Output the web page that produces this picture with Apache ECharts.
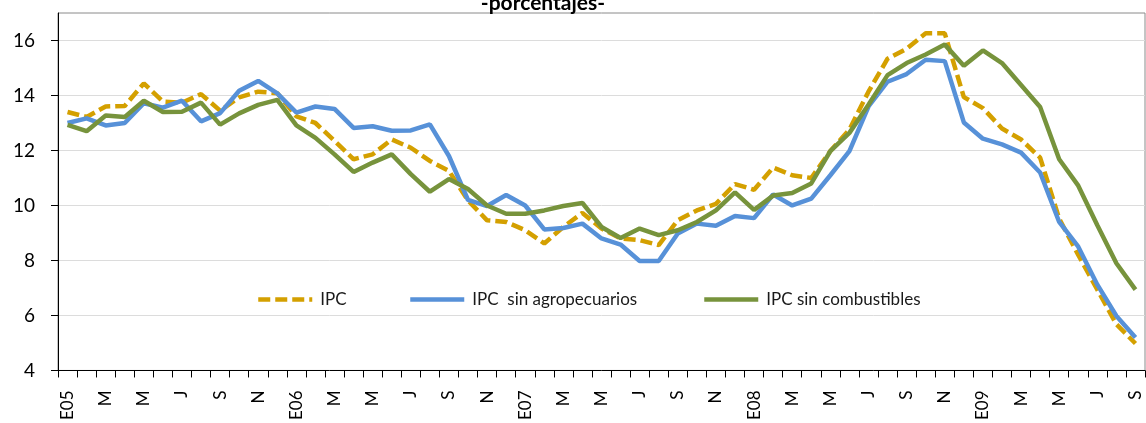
<!DOCTYPE html>
<html>
<head>
<meta charset="utf-8">
<title>IPC</title>
<script src="https://cdn.jsdelivr.net/npm/echarts@6/dist/echarts.min.js"></script>
<style>
  html, body { margin: 0; padding: 0; background: #ffffff; }
  #chart { width: 1146px; height: 423px; }
</style>
</head>
<body>
<div id="chart"></div>
<script>
// Months Jan 2005 – Sep 2009 (E = enero ... D = diciembre)
const months = [
  'E05','F','M','A','M','J','J','A','S','O','N','D',
  'E06','F','M','A','M','J','J','A','S','O','N','D',
  'E07','F','M','A','M','J','J','A','S','O','N','D',
  'E08','F','M','A','M','J','J','A','S','O','N','D',
  'E09','F','M','A','M','J','J','A','S'
];

// Year-on-year variation, percent
const ipc = [
  13.40, 13.22, 13.60, 13.62, 14.44, 13.78, 13.74, 14.05, 13.45, 13.93, 14.14, 14.08,
  13.24, 13.00, 12.35, 11.68, 11.86, 12.40, 12.10, 11.62, 11.26, 10.18, 9.46, 9.40,
  9.10, 8.62, 9.22, 9.73, 9.16, 8.80, 8.74, 8.56, 9.46, 9.82, 10.06, 10.78,
  10.57, 11.38, 11.10, 11.00, 11.98, 12.76, 14.14, 15.34, 15.70, 16.26, 16.26, 13.94,
  13.54, 12.80, 12.40, 11.74, 9.52, 8.20, 6.94, 5.68, 4.98
];

const ipcSinAgro = [
  13.00, 13.17, 12.91, 13.00, 13.72, 13.56, 13.81, 13.06, 13.36, 14.17, 14.53, 14.08,
  13.38, 13.60, 13.51, 12.82, 12.88, 12.72, 12.73, 12.95, 11.80, 10.20, 9.98, 10.38,
  10.00, 9.13, 9.18, 9.34, 8.80, 8.58, 7.98, 7.98, 8.98, 9.34, 9.26, 9.62,
  9.54, 10.40, 10.00, 10.25, 11.10, 11.98, 13.60, 14.50, 14.78, 15.30, 15.25, 13.02,
  12.43, 12.22, 11.92, 11.20, 9.40, 8.50, 7.12, 5.98, 5.20
];

const ipcSinComb = [
  12.93, 12.70, 13.27, 13.22, 13.81, 13.40, 13.41, 13.74, 12.94, 13.35, 13.66, 13.84,
  12.91, 12.46, 11.86, 11.22, 11.56, 11.86, 11.14, 10.50, 10.96, 10.60, 10.00, 9.70,
  9.70, 9.82, 9.98, 10.09, 9.22, 8.82, 9.16, 8.92, 9.10, 9.40, 9.82, 10.48,
  9.84, 10.36, 10.45, 10.80, 11.98, 12.64, 13.66, 14.74, 15.18, 15.49, 15.85, 15.08,
  15.64, 15.18, 14.38, 13.58, 11.68, 10.72, 9.28, 7.90, 6.94
];

const yTicks = [4, 6, 8, 10, 12, 14, 16];
const seriesNames = ['IPC', 'IPC  sin agropecuarios', 'IPC sin combustibles'];

const FONT = 'Lato, "Liberation Sans", sans-serif';
const GOLD = '#D4A000';
const BLUE = '#5791D8';
const GREEN = '#77933C';
const LINE_W = 4.5;
const DASH = [12, 5];

const chart = echarts.init(document.getElementById('chart'), null, { renderer: 'canvas' });

// one legend block per series, each placed on its own
function legendFor(name, left) {
  return {
    data: [name],
    left: left,
    top: 286,
    orient: 'horizontal',
    itemWidth: 54,
    itemHeight: 14,
    itemStyle: { opacity: 0 },
    lineStyle: { width: LINE_W },
    textStyle: { fontFamily: FONT, fontSize: 17, color: '#1a1a1a', padding: [0, 0, 0, 3] },
    selectedMode: false
  };
}

chart.setOption({
  animation: false,
  backgroundColor: '#ffffff',
  graphic: [{
    type: 'text',
    x: 543,
    y: 14,
    style: {
      text: '-porcentajes-',
      textAlign: 'center',
      textVerticalAlign: 'bottom',
      font: 'bold 21px ' + FONT,
      fill: '#000000'
    }
  }],
  legend: [
    legendFor(seriesNames[0], 251),
    legendFor(seriesNames[1], 403),
    legendFor(seriesNames[2], 697)
  ],
  grid: {
    left: 58,
    right: 1,
    top: 13,
    bottom: 50,
    show: true,
    borderColor: '#8a8a8a',
    borderWidth: 1
  },
  xAxis: {
    type: 'category',
    data: months,
    boundaryGap: true,
    axisLine: { show: true, lineStyle: { color: '#000000', width: 1 } },
    axisTick: { show: true, interval: 0, length: 7, lineStyle: { color: '#000000' } },
    axisLabel: {
      interval: 1,
      rotate: 90,
      margin: 20,
      fontFamily: FONT,
      fontSize: 17,
      color: '#000000'
    },
    splitLine: { show: false }
  },
  yAxis: {
    type: 'value',
    min: 4,
    max: 17,
    interval: 2,
    axisLine: { show: true, lineStyle: { color: '#000000', width: 1 } },
    axisTick: { show: true, length: 7, customValues: yTicks, lineStyle: { color: '#000000' } },
    axisLabel: {
      customValues: yTicks,
      margin: 23,
      fontFamily: FONT,
      fontSize: 19,
      color: '#000000'
    },
    splitLine: { show: true, lineStyle: { color: '#dcdcdc', width: 1 } }
  },
  series: [
    {
      name: seriesNames[0],
      type: 'line',
      data: ipc,
      symbol: 'none',
      lineStyle: { color: GOLD, width: LINE_W, type: DASH, cap: 'butt' },
      itemStyle: { color: GOLD },
      z: 2
    },
    {
      name: seriesNames[1],
      type: 'line',
      data: ipcSinAgro,
      symbol: 'none',
      lineStyle: { color: BLUE, width: LINE_W },
      itemStyle: { color: BLUE },
      z: 3
    },
    {
      name: seriesNames[2],
      type: 'line',
      data: ipcSinComb,
      symbol: 'none',
      lineStyle: { color: GREEN, width: LINE_W },
      itemStyle: { color: GREEN },
      z: 4
    }
  ]
});
</script>
</body>
</html>
